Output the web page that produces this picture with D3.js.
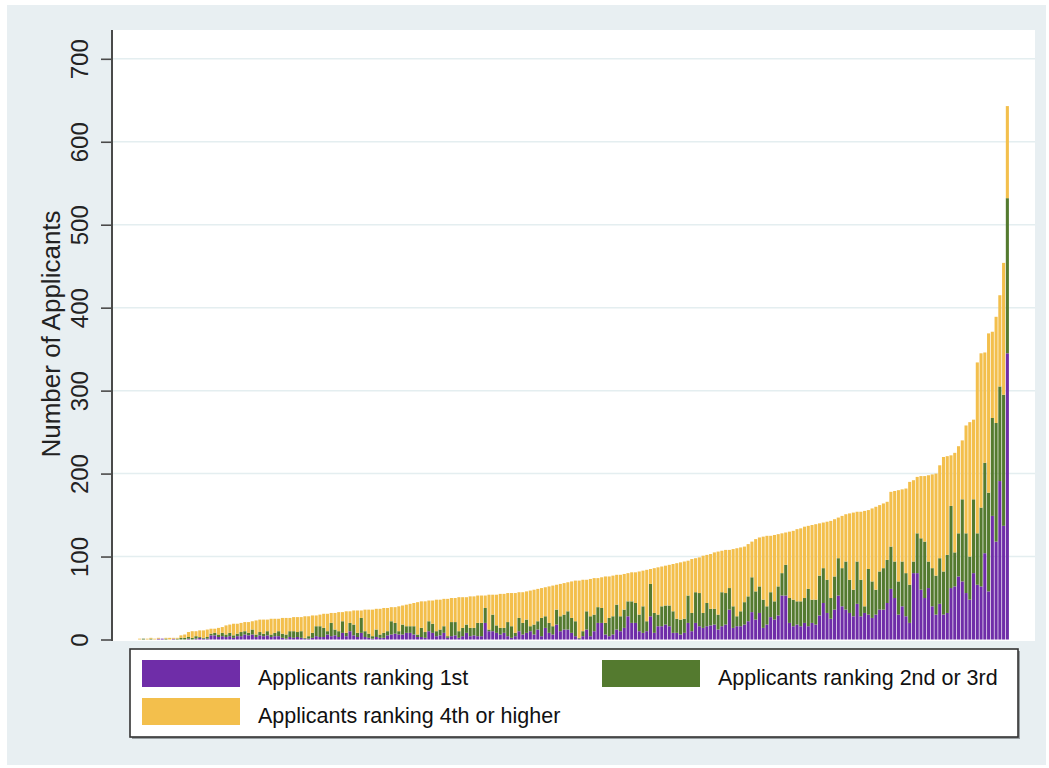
<!DOCTYPE html>
<html><head><meta charset="utf-8">
<script src="https://cdn.jsdelivr.net/npm/d3@7"></script>
<style>html,body{margin:0;padding:0;background:#fff;} svg{display:block;font-family:"Liberation Sans",Arial,sans-serif;}</style>
</head><body><svg id="c" width="1049" height="768"></svg>
<script>
// Applicants ranking 1st
const rank1 = [
0,0,0,0,0,1,1,0,0,1,0,
0,0,1,0,1,2,1,1,5,5,
3,4,3,4,2,4,4,6,5,6,
3,5,4,5,3,4,4,2,1,3,
2,3,2,1,1,2,4,3,3,6,
4,5,3,8,4,10,5,3,8,3,
2,1,3,2,2,5,6,7,6,6,
8,8,6,3,3,2,10,8,4,5,
8,2,4,5,2,4,8,4,5,4,
4,20,10,10,8,6,8,4,2,4,
10,6,8,10,6,12,4,14,8,6,
18,10,12,12,8,4,1,4,12,4,
10,20,20,6,4,6,12,10,14,28,
20,20,10,8,10,28,8,16,16,18,
16,8,8,6,8,20,10,20,16,14,
16,17,18,12,16,18,36,14,16,16,
18,22,33,24,32,14,18,27,24,29,
53,53,20,16,18,16,20,16,20,18,
29,44,32,25,36,53,40,36,32,28,
43,28,32,30,26,30,36,36,44,61,
50,30,40,28,20,80,80,60,50,62,
40,30,43,30,32,62,64,76,70,56,
48,80,66,64,104,58,149,118,191,137,345];
// Applicants ranking 2nd or 3rd
const rank23 = [
0,1,0,1,0,0,0,1,0,0,1,
2,2,2,2,3,1,1,2,2,3,
3,4,3,4,3,3,5,4,3,6,
3,4,3,5,3,4,6,5,5,7,
8,6,8,1,3,6,12,13,11,4,
16,7,7,14,4,10,13,5,18,7,
5,3,9,4,6,5,16,13,4,12,
8,8,10,3,11,7,12,11,6,7,
8,2,17,16,8,10,10,10,9,16,
16,18,2,20,9,8,6,17,14,4,
16,14,16,6,12,10,22,14,12,10,
18,18,18,22,18,18,1,6,22,24,
20,19,18,14,22,22,30,18,22,18,
26,24,20,32,12,39,24,14,24,23,
25,26,17,18,17,33,22,37,40,18,
28,20,19,18,41,38,26,26,12,18,
27,30,42,34,32,34,22,30,22,35,
27,37,30,32,28,30,30,45,28,30,
48,42,40,25,40,45,46,58,40,32,
51,44,8,55,44,30,46,50,52,51,
44,40,54,52,46,14,48,62,68,32,
46,47,55,52,70,99,41,52,99,72,
52,89,62,95,109,119,118,143,114,158,187];
// Applicants ranking 4th or higher
const rank4 = [
1,0,1,1,1,1,0,1,2,1,1,
3,4,6,8,6,8,9,9,6,5,
8,7,11,10,14,12,11,11,13,10,
17,15,17,14,19,17,15,19,20,16,
17,18,17,26,24,21,13,14,17,21,
12,20,23,11,26,14,17,27,9,26,
29,32,25,31,30,28,17,19,30,23,
26,27,28,39,32,37,25,28,38,36,
33,45,29,29,41,37,33,38,38,33,
33,15,42,24,37,41,41,35,40,48,
31,37,34,43,42,39,36,35,44,49,
30,39,38,35,44,49,69,62,38,45,
44,35,37,56,50,49,36,50,43,34,
35,37,52,43,62,18,54,57,48,48,
49,57,67,69,69,42,65,41,43,69,
58,66,68,76,50,52,46,69,82,77,
67,63,43,63,59,76,85,68,80,63,
48,39,80,83,87,88,86,76,90,91,
63,55,70,93,69,49,63,57,80,93,
60,82,115,71,88,100,80,78,70,66,
85,110,87,102,124,98,68,75,79,104,
113,123,112,138,119,61,120,105,71,130,
162,96,206,186,133,192,104,128,110,159,111];

const yTicks = [0,100,200,300,400,500,600,700];
const seriesKeys = ["rank1","rank23","rank4"];
const seriesNames = ["Applicants ranking 1st","Applicants ranking 2nd or 3rd","Applicants ranking 4th or higher"];
const seriesColors = ["#6f2da8","#547a2f","#f3bf4c"];
const yTitle = "Number of Applicants";

const categories = rank1.map((_, i) => i);
const rows = categories.map(i => ({i, rank1: rank1[i], rank23: rank23[i], rank4: rank4[i]}));

const svg = d3.select("#c");
// outer background
svg.append("rect").attr("x",0).attr("y",0).attr("width",1049).attr("height",768).attr("fill","#ffffff");
svg.append("rect").attr("x",7).attr("y",5).attr("width",1039).attr("height",760).attr("fill","#e8eff2");

const plot = {left:112, right:1035, top:30, bottom:641};
svg.append("rect").attr("x",plot.left).attr("y",plot.top)
  .attr("width",plot.right-plot.left).attr("height",plot.bottom-plot.top).attr("fill","#ffffff");

const x = d3.scaleBand().domain(categories).range([138.1, 1008.9]).paddingInner(0.18);
const y = d3.scaleLinear().domain([0,700]).range([639.5, 58.8]);

// gridlines
svg.append("g").selectAll("line").data(yTicks.slice(1)).join("line")
  .attr("x1",plot.left).attr("x2",plot.right)
  .attr("y1",d=>y(d)).attr("y2",d=>y(d))
  .attr("stroke","#e4eef0").attr("stroke-width",1.5);

// stacked bars
const stack = d3.stack().keys(seriesKeys)(rows);
svg.append("g").selectAll("g").data(stack).join("g")
  .attr("fill",(d,k)=>seriesColors[k])
  .selectAll("rect").data(d=>d).join("rect")
  .attr("x",d=>x(d.data.i))
  .attr("width",x.bandwidth())
  .attr("y",d=>y(d[1]))
  .attr("height",d=>Math.max(0,y(d[0])-y(d[1])));

// y axis
const yAxis = d3.axisLeft(y).tickValues(yTicks).tickSize(11).tickPadding(0).tickFormat(d3.format("d"));
const ag = svg.append("g").attr("transform",`translate(${plot.left},0)`).call(yAxis);
ag.select(".domain").remove();
ag.append("line").attr("x1",0).attr("x2",0).attr("y1",plot.top).attr("y2",plot.bottom)
  .attr("stroke","#4a4a4a").attr("stroke-width",2);
ag.selectAll(".tick line").attr("stroke","#4a4a4a").attr("stroke-width",1.6);
ag.selectAll(".tick text")
  .attr("x",0).attr("dy",null).attr("y",0)
  .attr("transform","translate(-24,0) rotate(-90)")
  .attr("text-anchor","middle")
  .attr("fill","#222").attr("font-size",24)
  .attr("font-family",'"Liberation Sans",Arial,sans-serif');

svg.append("text").attr("transform","translate(60,334) rotate(-90)")
  .attr("text-anchor","middle").attr("font-size",26).attr("fill","#222")
  .text(yTitle);

// legend
const lg = svg.append("g");
lg.append("rect").attr("x",132).attr("y",651).attr("width",888).attr("height",88).attr("fill","#9aa0a3");
lg.append("rect").attr("x",130).attr("y",649).attr("width",888).attr("height",88)
  .attr("fill","#ffffff").attr("stroke","#333").attr("stroke-width",1.6);
const legendPos = [{sx:142, sy:660, tx:258, ty:685},{sx:602, sy:660, tx:718, ty:685},{sx:142, sy:698, tx:258, ty:723}];
legendPos.forEach((p,k)=>{
  lg.append("rect").attr("x",p.sx).attr("y",p.sy).attr("width",98).attr("height",27).attr("fill",seriesColors[k]);
  lg.append("text").attr("x",p.tx).attr("y",p.ty).attr("font-size",21.5).attr("fill","#111").text(seriesNames[k]);
});
</script></body></html>
